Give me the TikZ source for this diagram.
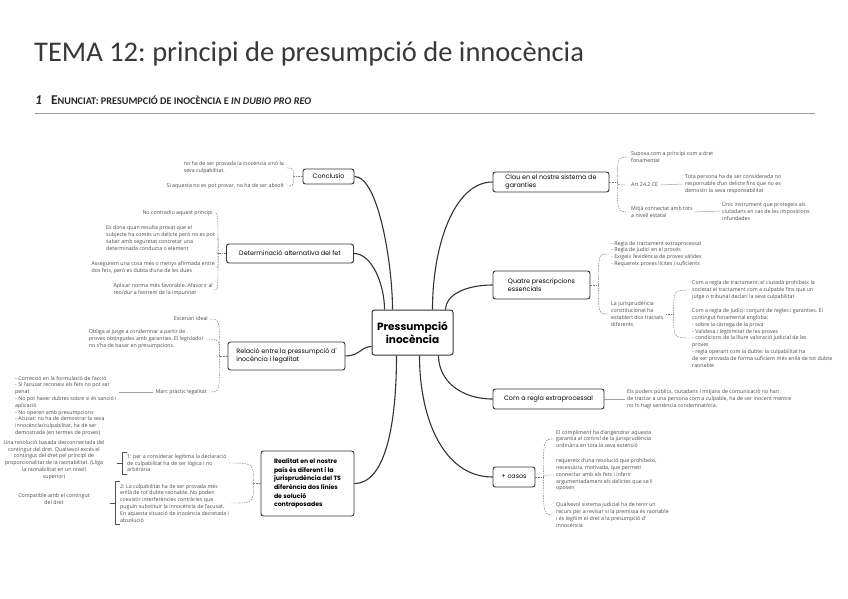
\documentclass[tikz,border=0pt]{standalone}
\usepackage{fontspec}
\setmainfont{Open Sans}
\newfontfamily\titlefont{Carlito}
\newfontfamily\nodefont{Poppins}
\usetikzlibrary{calc}
\definecolor{ink}{HTML}{333333}
\definecolor{leafc}{HTML}{4A4A4A}
\definecolor{dashc}{HTML}{7A7A7A}
\frenchspacing
\begin{document}
\begin{tikzpicture}[x=1pt,y=-1pt,
  mainbox/.style={draw=ink, line width=0.9pt, rounded corners=2.5pt, fill=white, text=black,
    font=\nodefont\fontsize{6.4}{8.2}\selectfont, inner sep=0pt, align=left},
  leaftext/.style={font=\fontsize{5.3}{6.8}\selectfont, text=leafc, inner ysep=0pt, inner xsep=2pt, align=left},
  branch/.style={draw=ink, line width=1.1pt},
  twig/.style={draw=dashc, line width=0.45pt, dash pattern=on 1.6pt off 1pt},
  plainline/.style={draw=dashc!70, line width=0.5pt},
  bracket/.style={draw=ink!85, line width=0.6pt},
]
\useasboundingbox[fill=white] (0,0) rectangle (848,599);

% ---- heading
\node[anchor=base west, inner sep=0, font=\titlefont\fontsize{28.5}{28.5}\selectfont, text=black!78] (title) at (34,62) {TEMA 12: principi de presumpció de innocència};
\node[anchor=base west, inner sep=0, font=\titlefont\bfseries, text=black!85] (sub) at (35,105)
  {\fontsize{13.5}{13.5}\selectfont\itshape 1\hspace{9pt}\upshape E\fontsize{10.2}{10.2}\selectfont NUNCIAT: PRESUMPCIÓ DE INOCÈNCIA E \itshape IN DUBIO PRO REO};
\coordinate (ruleA) at (35,113);
\coordinate (ruleB) at (815,113);
\draw[black!40, line width=0.8pt] (ruleA) -- (ruleB);

% ---- central and main nodes
\node[mainbox, minimum width=81, minimum height=45, align=center, font=\nodefont\bfseries\fontsize{10.5}{13}\selectfont, line width=1pt] (cen) at (412.5,332.5) {Pressumpció\\inocència};

\node[mainbox, minimum width=51, minimum height=15] (conc) at (328.5,176.5) {Conclusio};
\node[mainbox, minimum width=127, minimum height=19] (det) at (290,253.5) {Determinació alternativa del fet};
\node[mainbox, minimum width=117, minimum height=28] (rel) at (286.5,356) {Relació entre la pressumpció d'\\inocència i legalitat};
\node[mainbox, minimum width=93, minimum height=65, font=\nodefont\bfseries\fontsize{6.2}{8.6}\selectfont] (real) at (307.5,483.5) {Realitat en el nostre\\país és diferent i la\\jurisprudència del TS\\diferència dos línies\\de solució\\contraposades};

\node[mainbox, minimum width=116, minimum height=20] (clau) at (551,182) {Clau en el nostre sistema de\\garanties};
\node[mainbox, minimum width=97, minimum height=28] (quatre) at (541.5,285) {Quatre prescripcions\\essencials};
\node[mainbox, minimum width=111, minimum height=20] (extra) at (548.5,399) {Com a regla extraprocessal};
\node[mainbox, minimum width=42, minimum height=20] (casos) at (514,477) {+ casos};

% ---- main branches
\draw[branch] (conc.east) .. controls +(24,0) and +(0,-45) .. ($(cen.north)+(-20,0)$);
\draw[branch] (det.east) .. controls +(18,0) and +(0,-25) .. ($(cen.north)+(-28,0)$);
\draw[branch] (rel.east) .. controls +(14,0) and +(-10,0) .. ($(cen.west)+(0,14)$);
\draw[branch] (real.east) .. controls +(32,0) and +(0,65) .. ($(cen.south)+(-16,0)$);
\draw[branch] (clau.west) .. controls +(-38,0) and +(0,-65) .. ($(cen.north)+(20,0)$);
\draw[branch] (quatre.west) .. controls +(-28,0) and +(0,-14) .. ($(cen.north)+(33,0)$);
\draw[branch] (extra.west) .. controls +(-32,0) and +(0,25) .. ($(cen.south)+(26,0)$);
\draw[branch] (casos.west) .. controls +(-48,0) and +(0,65) .. ($(cen.south)+(7,0)$);

% ---- Conclusio
\coordinate (jc) at ($(conc.west)+(-9,0)$);
\node[leaftext, anchor=east] (c1) at (286,168) {no ha de ser provada la inocència sinó la\\seva culpabilitat.};
\node[leaftext, anchor=east] (c2) at (286,186) {Si aquesta no es pot provar, no ha de ser absolt};
\draw[twig] (conc.west) -- (jc);
\draw[twig] (jc) .. controls (jc |- c1.east) .. (c1.east);
\draw[twig] (jc) .. controls (jc |- c2.east) .. (c2.east);

% ---- Determinacio
\coordinate (jd) at ($(det.west)+(-8,0)$);
\node[leaftext, anchor=east] (d1) at (215,213) {No contradiu aquest principi};
\node[leaftext, anchor=east] (d2) at (217,238) {Es dona quan resulta provat que el\\subjecte ha comès un delicte però no es pot\\saber amb seguretat concretar una\\determinada conducta o element};
\node[leaftext, anchor=east] (d3) at (217,268) {Assegurem una cosa més o menys afirmada entre\\dos fets, però es dubta d'una de les dues};
\node[leaftext, anchor=east] (d4) at (215,290) {Aplicar norma més favorable. Afavorir al\\reo/dur a l'extrem de la impunitat};
\draw[twig] (det.west) -- (jd);
\foreach \n in {d1,d2,d3,d4} \draw[twig] (jd) .. controls (jd |- \n.east) .. (\n.east);

% ---- Relacio
\coordinate (jr) at ($(rel.west)+(-8,0)$);
\node[leaftext, anchor=east] (r1) at (210,319) {Escenari ideal};
\node[leaftext, anchor=east] (r2) at (206,339) {Obliga al jutge a condemnar a partir de\\proves obtingudes amb garanties. El legislador\\no s'ha de basar en presumpcions.};
\node[leaftext, anchor=east] (r3) at (209,392) {Marc pràctic legalitat};
\node[leaftext, anchor=west] (r4) at (13,406) {- Correcció en la formulació de l'acció\\- Si l'acusat reconeix els fets no pot ser\\penat\\- No pot haver dubtes sobre si és sanció i\\aplicació\\- No operen amb presumpcions\\- Acusat: no ha de demostrar la seva\\innocència/culpabilitat, ha de ser\\demostrada (en termes de proves)};
\draw[twig] (rel.west) -- (jr);
\foreach \n in {r1,r2,r3} \draw[twig] (jr) .. controls (jr |- \n.east) .. (\n.east);
\draw[plainline] (r3.west) -- (r3.west -| r4.east);

% ---- Realitat
\coordinate (jre) at ($(real.west)+(-7,0)$);
\node[leaftext, anchor=west] (t1) at (125,463) {1: per a considerar legítima la declaració\\de culpabilitat ha de ser lògica i no\\arbitrària};
\node[leaftext, anchor=west] (t2) at (118,503) {2: La culpabilitat ha de ser provada més\\enllà de tot dubte raonable. No poden\\coexistir interferències contràries que\\puguin substituir la innocència de l'acusat.\\En aquesta situació de inocència decretada i\\absolució};
\draw[twig] (real.west) -- (jre);
\foreach \n in {t1,t2} \draw[twig] (jre) .. controls (jre |- \n.east) .. (\n.east);
\draw[bracket] ($(t1.north west)+(2,-2)$) -- ++(-5,0) -- ($(t1.south west)+(-3,2)$) -- ++(5,0);
\draw[bracket] ($(t1.west)+(-3,0)$) -- ++(-5,0);
\draw[bracket] ($(t2.north west)+(2,-2)$) -- ++(-5,0) -- ($(t2.south west)+(-3,2)$) -- ++(5,0);
\draw[bracket] ($(t2.west)+(-3,0)$) -- ++(-5,0);
\node[leaftext, align=center] (l1) at (54,460) {Una resolució basada desconnectada del\\contingut del dret. Qualsevol excés el\\contingut del dret pel principi de\\proporcionalitat de la raonabilitat. (Lliga\\la raonabilitat en un nivell\\superior)};
\node[leaftext, align=center] (l2) at (54,499) {Compatible amb el contingut\\del dret};

% ---- Clau
\coordinate (jk) at ($(clau.east)+(8,0)$);
\node[leaftext, anchor=west] (k1) at (629,157) {Suposa com a principi com a dret\\fonamental};
\node[leaftext, anchor=west] (k2) at (629,185) {Art 24.2 CE};
\node[leaftext, anchor=west] (k2b) at (683,184) {Tota persona ha de ser considerada no\\responsable d'un delicte fins que no es\\demostri la seva responsabilitat};
\node[leaftext, anchor=west] (k3) at (629,212) {Mitjà connectat amb tots\\a nivell estatal};
\node[leaftext, anchor=west] (k3b) at (720,211) {Únic instrument que protegeix als\\ciutadans en cas de les imposicions\\infundades};
\draw[twig] (clau.east) -- (jk);
\foreach \n in {k1,k2,k3} \draw[twig] (jk) .. controls (jk |- \n.west) .. (\n.west);
\draw[plainline] (k2.east) -- (k2b.west);
\draw[plainline] (k3.east) -- (k3b.west);

% ---- Quatre
\coordinate (jq) at ($(quatre.east)+(8,0)$);
\node[leaftext, anchor=west] (q1) at (609,254) {- Regla de tractament extraprocessal\\- Regla de judici en el procés\\- Exigeix l'evidència de proves vàlides\\- Requereix proves lícites i suficients};
\node[leaftext, anchor=west] (q2) at (609,314) {La jurisprudència\\constitucional ha\\establert dos tractats\\diferents.};
\coordinate (jq2) at ($(q2.east)+(8,0)$);
\node[leaftext, anchor=west] (q3) at (690,290) {Com a regla de tractament, el ciutadà prohibeix la\\societat el tractament com a culpable fins que un\\jutge o tribunal declari la seva culpabilitat};
\node[leaftext, anchor=west] (q4) at (690,338) {Com a regla de judici: conjunt de regles i garanties. El\\contingut fonamental engloba:\\- sobre la càrrega de la prova\\- Validesa i legitimitat de les proves\\- condicions de la lliure valoració judicial de les\\proves\\- regla operant com la dubte: la culpabilitat ha\\de ser provada de forma suficient més enllà de tot dubte\\raonable};
\draw[twig] (quatre.east) -- (jq);
\foreach \n in {q1,q2} \draw[twig] (jq) .. controls (jq |- \n.west) .. (\n.west);
\draw[twig] (q2.east) -- (jq2);
\foreach \n in {q3,q4} \draw[twig] (jq2) .. controls (jq2 |- \n.west) .. (\n.west);

% ---- Extra
\node[leaftext, anchor=west] (e1) at (625,399) {Els poders públics, ciutadans i mitjans de comunicació no han\\de tractar a una persona com a culpable, ha de ser inocent mentre\\no hi hagi sentència condemnatòria.};
\draw[plainline] (extra.east) -- (e1.west);

% ---- Casos
\coordinate (js) at ($(casos.east)+(8,0)$);
\node[leaftext, anchor=west] (s1) at (554,439) {El compliment ha d'engendrar aquesta\\garantia al control de la jurisprudència\\ordinària en tota la seva extensió};
\node[leaftext, anchor=west] (s2) at (554,475) {requereix d'una resolució que prohibeixi,\\necessària, motivada, que permeti\\connectar amb els fets i inferir\\argumentadament els delictes que se li\\oposen};
\node[leaftext, anchor=west] (s3) at (554,515) {Qualsevol sistema judicial ha de tenir un\\recurs per a revisar si la premissa és raonable\\i és legítim el dret a la presumpció d'\\innocència};
\draw[twig] (casos.east) -- (js);
\foreach \n in {s1,s2,s3} \draw[twig] (js) .. controls (js |- \n.west) .. (\n.west);
\end{tikzpicture}
\end{document}
